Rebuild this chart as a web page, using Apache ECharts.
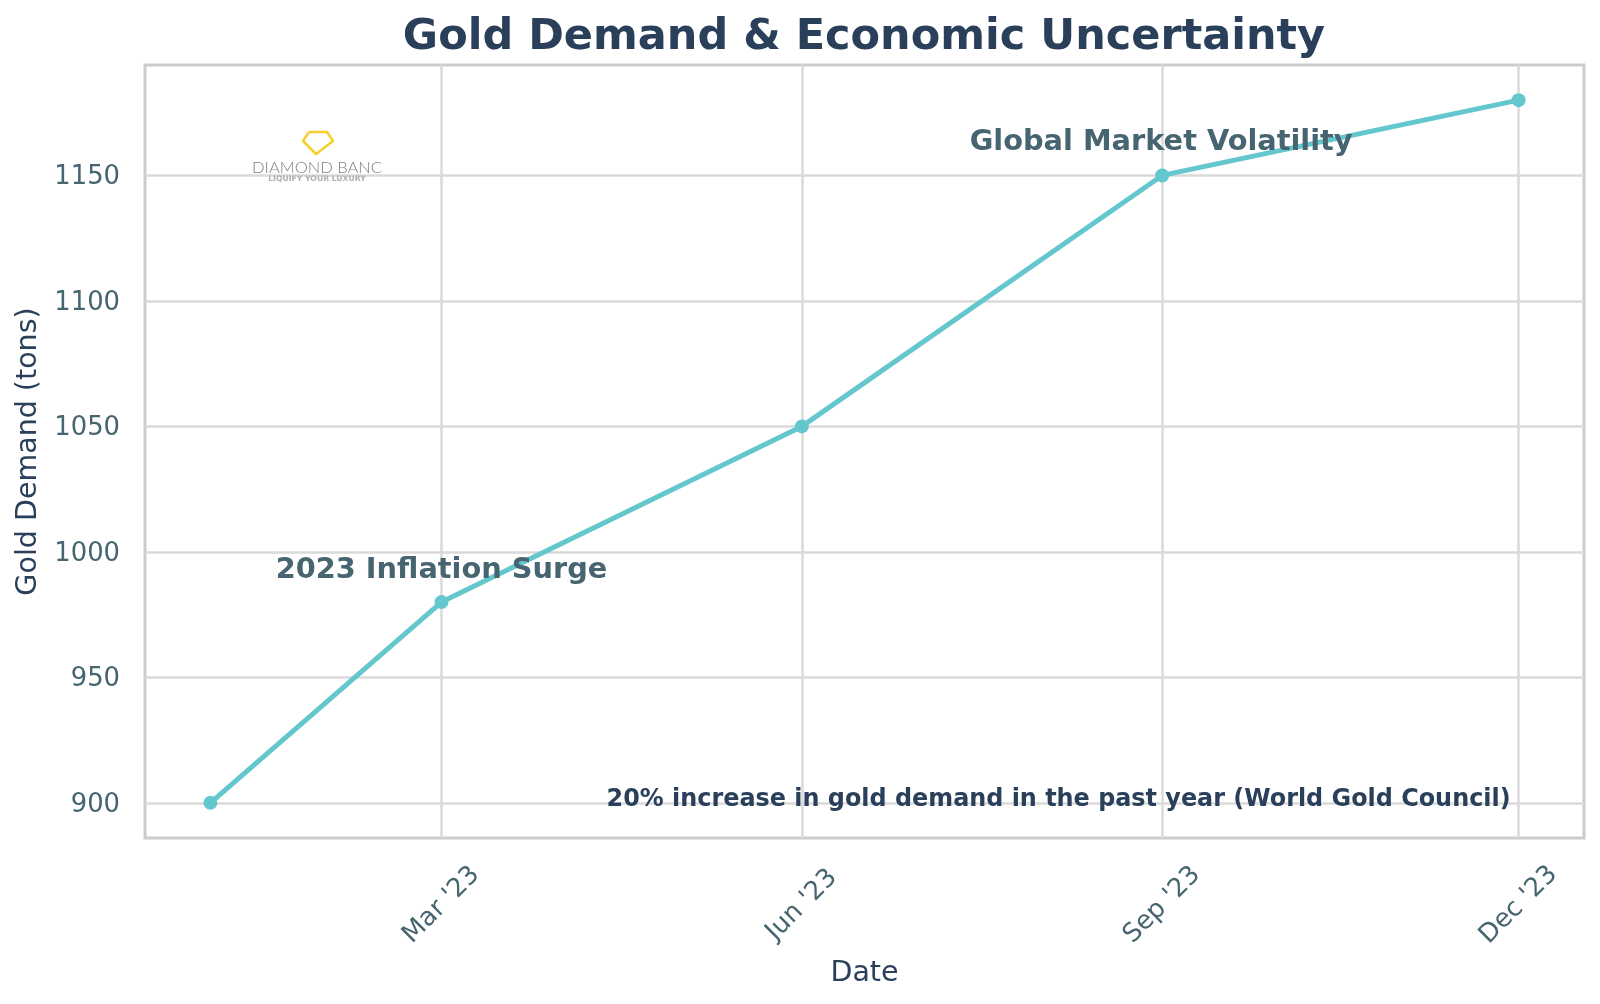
<!DOCTYPE html>
<html lang="en">
<head>
    <meta charset="UTF-8">
    <title>Gold Demand & Economic Uncertainty</title>
    <script src="https://cdn.jsdelivr.net/npm/echarts@6/dist/echarts.min.js"></script>
    <style>
        body, html { margin: 0; background: #fff; }
        #main { width: 1600px; height: 1004px; }
    </style>
</head>
<body>
<div id="main"></div>
<script>
    const dates = ['2023-01-01', '2023-03-01', '2023-06-01', '2023-09-01', '2023-12-01'];
    const demand = [900, 980, 1050, 1150, 1180];
    const xTickDates = ['2023-03-01', '2023-06-01', '2023-09-01', '2023-12-01'];
    const xTickLabels = ["Mar '23", "Jun '23", "Sep '23", "Dec '23"];
    const yTicks = [900, 950, 1000, 1050, 1100, 1150];

    const font = 'DejaVu Sans';
    // x axis is a plain value axis in ms, the time axis does not take customValues
    const toTime = d => Date.parse(d + 'T00:00:00Z');
    const xTickTimes = xTickDates.map(toTime);
    const xFirst = toTime(dates[0]);
    const xLast = toTime(dates[dates.length - 1]);
    const xPad = (xLast - xFirst) * 0.05;

    var chart = echarts.init(document.getElementById('main'));

    function note(date, value, text, size, color, extra) {
        return {
            coord: [toTime(date), value],
            symbol: 'circle',
            symbolSize: 0,
            label: Object.assign({
                show: true,
                formatter: text,
                fontFamily: font,
                fontWeight: 'bold',
                fontSize: size,
                color: color
            }, extra)
        };
    }

    chart.setOption({
        animation: false,
        backgroundColor: '#fff',
        title: {
            text: 'Gold Demand & Economic Uncertainty',
            left: 859,
            top: 11,
            textAlign: 'center',
            textStyle: { fontFamily: font, fontWeight: 'bold', fontSize: 43, color: '#2a3f5a' }
        },
        grid: {
            left: 145, right: 16, top: 65, bottom: 166,
            show: true, borderColor: '#cccccc', borderWidth: 3
        },
        xAxis: {
            type: 'value',
            min: xFirst - xPad,
            max: xLast + xPad,
            name: 'Date',
            nameLocation: 'middle',
            nameGap: 121,
            nameTextStyle: { fontFamily: font, fontSize: 28.5, color: '#2a3f5a' },
            axisLine: { show: false },
            axisTick: { show: false, customValues: xTickTimes },
            splitLine: { show: true, lineStyle: { color: '#dadada', width: 2.5 } },
            axisLabel: {
                customValues: xTickTimes,
                rotate: 45,
                align: 'center',
                verticalAlign: 'middle',
                margin: 67,
                hideOverlap: false,
                fontFamily: font,
                fontSize: 25.8,
                color: '#466570',
                formatter: v => xTickLabels[xTickTimes.indexOf(+v)] || ''
            }
        },
        yAxis: {
            type: 'value',
            min: 886,
            max: 1194,
            name: 'Gold Demand (tons)',
            nameLocation: 'middle',
            nameGap: 99,
            nameTextStyle: { fontFamily: font, fontSize: 28.5, color: '#2a3f5a' },
            axisLine: { show: false },
            axisTick: { show: false, customValues: yTicks },
            splitLine: { show: true, lineStyle: { color: '#dadada', width: 2.5 } },
            axisLabel: {
                customValues: yTicks,
                margin: 25,
                formatter: v => '{v|' + v + '}',
                rich: {
                    v: {
                        padding: [4, 0, 0, 0],
                        fontFamily: font,
                        fontSize: 25.8,
                        color: '#466570'
                    }
                }
            }
        },
        series: [{
            type: 'line',
            data: dates.map((d, i) => [toTime(d), demand[i]]),
            symbol: 'circle',
            symbolSize: 14,
            showSymbol: true,
            lineStyle: { color: '#64c7ce', width: 5 },
            itemStyle: { color: '#64c7ce' },
            markPoint: {
                silent: true,
                data: [
                    note('2023-03-01', 980, '2023 Inflation Surge', 28.8, '#466570', { position: 'inside', offset: [0, -32] }),
                    note('2023-09-01', 1150, 'Global Market Volatility', 28.8, '#466570', { position: 'inside', offset: [-1, -33] }),
                    note('2023-12-01', 900, '20% increase in gold demand in the past year (World Gold Council)', 23.9, '#2a3f5a', { position: 'inside', offset: [-460, -3] })
                ]
            }
        }],
        graphic: [
            // logo, placed by hand over the plot
            {
                type: 'polyline',
                z: 10,
                shape: { points: [[309, 132], [327, 132], [333, 141], [316, 154], [303, 141], [309, 132]] },
                style: { fill: 'none', stroke: '#f5cf2e', lineWidth: 2.5, lineJoin: 'round' }
            },
            {
                type: 'text', z: 10, x: 317, y: 168,
                style: { text: 'DIAMOND BANC', font: '300 16.5px Lato', fill: '#808080', align: 'center', verticalAlign: 'middle' }
            },
            {
                type: 'text', z: 10, x: 317, y: 179,
                style: { text: 'LIQUIFY YOUR LUXURY', font: 'bold 7.7px "DejaVu Sans"', fill: '#b0b0b0', align: 'center', verticalAlign: 'middle' }
            }
        ]
    });
</script>
</body>
</html>
